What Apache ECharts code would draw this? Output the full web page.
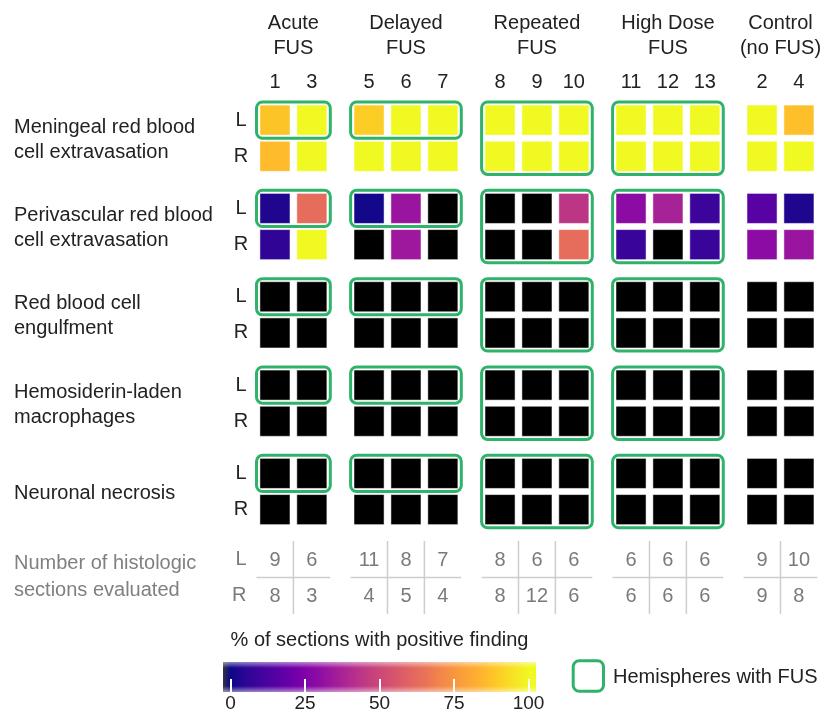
<!DOCTYPE html>
<html>
<head>
<meta charset="utf-8">
<title>FUS histology</title>
<script src="https://cdn.jsdelivr.net/npm/echarts@6/dist/echarts.min.js"></script>
<style>
  html, body { margin: 0; padding: 0; background: #fff; }
  #chart { width: 822px; height: 712px; }
</style>
</head>
<body>
<div id="chart"></div>
<script>
// animals in column order, and the group each one belongs to
var animals = ['1', '3', '5', '6', '7', '8', '9', '10', '11', '12', '13', '2', '4'];
var animalGroup = [0, 0, 1, 1, 1, 2, 2, 2, 3, 3, 3, 4, 4];
var groupNames = ['Acute\nFUS', 'Delayed\nFUS', 'Repeated\nFUS', 'High Dose\nFUS', 'Control\n(no FUS)'];
// hemispheres that got FUS in each group
var groupFus = [['L'], ['L'], ['L', 'R'], ['L', 'R'], []];
var sides = ['L', 'R'];
var findings = [
  'Meningeal red blood\ncell extravasation',
  'Perivascular red blood\ncell extravasation',
  'Red blood cell\nengulfment',
  'Hemosiderin-laden\nmacrophages',
  'Neuronal necrosis'
];

// % of sections with positive finding
var meningealL = [88, 100, 90, 100, 100, 100, 100, 100, 100, 100, 100, 100, 87];
var meningealR = [86, 100, 100, 100, 100, 100, 100, 100, 100, 100, 100, 100, 100];
var perivascularL = [3, 63, 1, 33, 0, 0, 0, 44, 29, 37, 9, 16, 3];
var perivascularR = [6, 100, 0, 34, 0, 0, 0, 63, 8, 0, 8, 29, 33];
var engulfmentL = [0, 0, 0, 0, 0, 0, 0, 0, 0, 0, 0, 0, 0];
var engulfmentR = [0, 0, 0, 0, 0, 0, 0, 0, 0, 0, 0, 0, 0];
var hemosiderinL = [0, 0, 0, 0, 0, 0, 0, 0, 0, 0, 0, 0, 0];
var hemosiderinR = [0, 0, 0, 0, 0, 0, 0, 0, 0, 0, 0, 0, 0];
var necrosisL = [0, 0, 0, 0, 0, 0, 0, 0, 0, 0, 0, 0, 0];
var necrosisR = [0, 0, 0, 0, 0, 0, 0, 0, 0, 0, 0, 0, 0];

// number of histologic sections evaluated
var sectionsL = [9, 6, 11, 8, 7, 8, 6, 6, 6, 6, 6, 9, 10];
var sectionsR = [8, 3, 4, 5, 4, 8, 12, 6, 6, 6, 6, 9, 8];

var colorbarTicks = [0, 25, 50, 75, 100];
var plasma = [
  '#0d0887', '#2c0594', '#41049d', '#5302a3', '#6a00a8', '#7e03a8', '#8f0da4',
  '#a11b9b', '#b12a90', '#bf3984', '#cc4778', '#d6556d', '#e16462', '#e97158',
  '#f2844b', '#f89540', '#fca636', '#feb72d', '#fccd25', '#f7e225', '#f0f921'
];

var values = [
  [meningealL, meningealR],
  [perivascularL, perivascularR],
  [engulfmentL, engulfmentR],
  [hemosiderinL, hemosiderinR],
  [necrosisL, necrosisR]
];
var sections = [sectionsL, sectionsR];

// layout
var FONT = '"Liberation Sans", Arial, Helvetica, sans-serif';
var INK = '#222';
var GRAY = '#7a7a7a';
var GREEN = '#2fb36b';
var GROUP_GAP = 0.55;
var FINDING_GAP = 0.44;
var PX_X = 36.9;
var PX_Y = 36.2;
var colorbarRange = [-2.5, 102.5];

function colX(i) { return i + animalGroup[i] * GROUP_GAP; }
function rowY(f, s) { return f * (2 + FINDING_GAP) + s; }
function groupCols(g) {
  var out = [];
  animalGroup.forEach(function (gg, i) { if (gg === g) out.push(i); });
  return out;
}
function cellColor(v) {
  if (v <= 0) return '#000000';
  return echarts.color.lerp(v / 100, plasma);
}

var xMin = -0.5, xMax = colX(animals.length - 1) + 0.5;
var yMin = -0.5, yMax = rowY(findings.length - 1, 1) + 0.5;
var gridLeft = 256.5;
var gridWidth = (xMax - xMin) * PX_X;

var cellData = [];
values.forEach(function (pair, f) {
  pair.forEach(function (arr, s) {
    arr.forEach(function (v, i) { cellData.push([colX(i), rowY(f, s), v]); });
  });
});

var frameData = [];
findings.forEach(function (name, f) {
  groupFus.forEach(function (fus, g) {
    if (!fus.length) return;
    var cols = groupCols(g);
    frameData.push([
      colX(cols[0]) - 0.5, colX(cols[cols.length - 1]) + 0.5,
      rowY(f, sides.indexOf(fus[0])) - 0.5, rowY(f, sides.indexOf(fus[fus.length - 1])) + 0.5
    ]);
  });
});

var headerData = animals.map(function (a, i) { return [colX(i), yMin]; });
var titleData = groupNames.map(function (n, g) {
  var cols = groupCols(g);
  return [(colX(cols[0]) + colX(cols[cols.length - 1])) / 2, yMin];
});
var sideData = [];
findings.forEach(function (n, f) {
  sides.forEach(function (s, si) { sideData.push([xMin, rowY(f, si)]); });
});
var findingData = findings.map(function (n, f) { return [xMin, (rowY(f, 0) + rowY(f, 1)) / 2]; });

var tableData = [];
sections.forEach(function (arr, s) {
  arr.forEach(function (n, i) { tableData.push([colX(i), s, n]); });
});
var tableGroupData = groupNames.map(function (n, g) { return [colX(groupCols(g)[0]), 0]; });

function textEl(x, y, text, color, align) {
  return {
    type: 'text', x: x, y: y,
    style: {
      text: text, fill: color, font: '20px ' + FONT,
      align: align || 'center', verticalAlign: 'middle', lineHeight: 25
    }
  };
}

var option = {
  animation: false,
  backgroundColor: '#fff',
  tooltip: { show: false },
  grid: [
    { left: gridLeft, top: 102, width: gridWidth, height: (yMax - yMin) * PX_Y, outerBoundsMode: 'none' },
    { left: gridLeft, top: 541, width: gridWidth, height: 73, outerBoundsMode: 'none' },
    { left: 223, top: 662, width: 313, height: 30, outerBoundsMode: 'none' }
  ],
  xAxis: [
    { gridIndex: 0, type: 'value', min: xMin, max: xMax, show: false },
    { gridIndex: 1, type: 'value', min: xMin, max: xMax, show: false },
    {
      gridIndex: 2, type: 'value', min: colorbarRange[0], max: colorbarRange[1], z: 10,
      axisLine: { show: false },
      splitLine: { show: false },
      axisTick: {
        show: true, inside: true, length: 13, customValues: colorbarTicks,
        lineStyle: { color: '#fff', width: 2 }
      },
      axisLabel: {
        show: true, customValues: colorbarTicks, margin: 2,
        color: INK, fontSize: 19, fontFamily: FONT
      }
    }
  ],
  yAxis: [
    { gridIndex: 0, type: 'value', min: yMin, max: yMax, inverse: true, show: false },
    {
      gridIndex: 1, type: 'category', data: sides, inverse: true,
      axisLine: { show: false }, axisTick: { show: false }, splitLine: { show: false },
      axisLabel: { color: GRAY, fontSize: 20, fontFamily: FONT, margin: 10 }
    },
    { gridIndex: 2, type: 'value', min: 0, max: 1, show: false }
  ],
  graphic: [
    {
      type: 'text', x: 379.5, y: 640,
      style: {
        text: '% of sections with positive finding', fill: INK, font: '20px ' + FONT,
        align: 'center', verticalAlign: 'middle', textAlign: 'center', textVerticalAlign: 'middle'
      }
    },
    {
      type: 'rect', shape: { x: 573.2, y: 660.8, width: 30.3, height: 30.4, r: 6 },
      style: { fill: 'none', stroke: GREEN, lineWidth: 3 }
    },
    {
      type: 'text', x: 613, y: 677,
      style: {
        text: 'Hemispheres with FUS', fill: INK, font: '20px ' + FONT,
        align: 'left', verticalAlign: 'middle', textAlign: 'left', textVerticalAlign: 'middle'
      }
    }
  ],
  series: [
    {
      // heat cells
      type: 'custom', name: 'cells', xAxisIndex: 0, yAxisIndex: 0,
      data: cellData,
      renderItem: function (params, api) {
        var c = api.coord([api.value(0), api.value(1)]);
        var size = api.size([1, 1]);
        var w = Math.abs(size[0]) * 0.815, h = Math.abs(size[1]) * 0.83;
        return {
          type: 'rect',
          shape: { x: c[0] - w / 2, y: c[1] - h / 2, width: w, height: h },
          style: { fill: cellColor(api.value(2)), stroke: 'rgba(255,255,255,0.5)', lineWidth: 1 }
        };
      }
    },
    {
      // green frames = hemispheres with FUS
      type: 'custom', name: 'Hemispheres with FUS', xAxisIndex: 0, yAxisIndex: 0,
      data: frameData,
      renderItem: function (params, api) {
        var p0 = api.coord([api.value(0), api.value(2)]);
        var p1 = api.coord([api.value(1), api.value(3)]);
        return {
          type: 'rect',
          shape: {
            x: Math.min(p0[0], p1[0]), y: Math.min(p0[1], p1[1]),
            width: Math.abs(p1[0] - p0[0]), height: Math.abs(p1[1] - p0[1]), r: 6
          },
          style: { fill: 'none', stroke: GREEN, lineWidth: 3 }
        };
      }
    },
    {
      // animal numbers
      type: 'custom', xAxisIndex: 0, yAxisIndex: 0, data: headerData, silent: true,
      renderItem: function (params, api) {
        var c = api.coord([api.value(0), api.value(1)]);
        return textEl(c[0], c[1] - 19.5, animals[params.dataIndex], INK);
      }
    },
    {
      // group titles
      type: 'custom', xAxisIndex: 0, yAxisIndex: 0, data: titleData, silent: true,
      renderItem: function (params, api) {
        var c = api.coord([api.value(0), api.value(1)]);
        return textEl(c[0], c[1] - 66, groupNames[params.dataIndex], INK);
      }
    },
    {
      // L / R labels
      type: 'custom', xAxisIndex: 0, yAxisIndex: 0, data: sideData, silent: true,
      renderItem: function (params, api) {
        var c = api.coord([api.value(0), api.value(1)]);
        return textEl(c[0] - 15.5, c[1], sides[params.dataIndex % 2], INK);
      }
    },
    {
      // finding names
      type: 'custom', xAxisIndex: 0, yAxisIndex: 0, data: findingData, silent: true,
      renderItem: function (params, api) {
        var c = api.coord([api.value(0), api.value(1)]);
        return textEl(14, c[1] + 1.5, findings[params.dataIndex], INK, 'left');
      }
    },
    {
      // section counts
      type: 'custom', xAxisIndex: 1, yAxisIndex: 1, data: tableData, silent: true,
      renderItem: function (params, api) {
        var c = api.coord([api.value(0), api.value(1)]);
        return textEl(c[0], c[1] + 1, String(api.value(2)), GRAY);
      }
    },
    {
      // table rules
      type: 'custom', xAxisIndex: 1, yAxisIndex: 1, data: tableGroupData, silent: true,
      renderItem: function (params, api) {
        var cols = groupCols(params.dataIndex);
        var yL = api.coord([0, 0])[1], yR = api.coord([0, 1])[1];
        var band = yR - yL;
        var top = yL - band / 2, bottom = yR + band / 2, mid = (yL + yR) / 2;
        var left = api.coord([colX(cols[0]) - 0.5, 0])[0];
        var right = api.coord([colX(cols[cols.length - 1]) + 0.5, 0])[0];
        var line = { stroke: '#cdcdcd', lineWidth: 1.5 };
        var children = [{ type: 'line', shape: { x1: left, y1: mid, x2: right, y2: mid }, style: line }];
        for (var k = 1; k < cols.length; k++) {
          var xb = api.coord([(colX(cols[k - 1]) + colX(cols[k])) / 2, 0])[0];
          children.push({ type: 'line', shape: { x1: xb, y1: top, x2: xb, y2: bottom }, style: line });
        }
        return { type: 'group', children: children };
      }
    },
    {
      // table row caption
      type: 'custom', xAxisIndex: 1, yAxisIndex: 1, data: [[xMin, 0]], silent: true,
      renderItem: function (params, api) {
        var yL = api.coord([0, 0])[1], yR = api.coord([0, 1])[1];
        var el = textEl(14, (yL + yR) / 2 - 1, 'Number of histologic\nsections evaluated', '#808080', 'left');
        el.style.lineHeight = 27;
        return el;
      }
    },
    {
      // colour bar
      type: 'custom', xAxisIndex: 2, yAxisIndex: 2,
      data: [[colorbarRange[0], 0, colorbarRange[1], 1]], silent: true,
      renderItem: function (params, api) {
        var p0 = api.coord([api.value(0), api.value(3)]);
        var p1 = api.coord([api.value(2), api.value(1)]);
        var span = colorbarRange[1] - colorbarRange[0];
        var stops = [{ offset: 0, color: '#34343f' }];
        plasma.forEach(function (c, k) {
          stops.push({ offset: (k / (plasma.length - 1) * 100 - colorbarRange[0]) / span, color: c });
        });
        stops.push({ offset: 1, color: plasma[plasma.length - 1] });
        var shape = { x: p0[0], y: p0[1], width: p1[0] - p0[0], height: p1[1] - p0[1] };
        return {
          type: 'group',
          children: [
            {
              type: 'rect', shape: shape,
              style: { fill: new echarts.graphic.LinearGradient(0, 0, 1, 0, stops) }
            },
            {
              type: 'rect', shape: shape,
              style: {
                fill: new echarts.graphic.LinearGradient(0, 0, 0, 1, [
                  { offset: 0, color: 'rgba(255,255,255,0.5)' },
                  { offset: 0.2, color: 'rgba(255,255,255,0)' },
                  { offset: 0.8, color: 'rgba(255,255,255,0)' },
                  { offset: 1, color: 'rgba(255,255,255,0.5)' }
                ])
              }
            }
          ]
        };
      }
    }
  ]
};

var chart = echarts.init(document.getElementById('chart'));
chart.setOption(option);
</script>
</body>
</html>
